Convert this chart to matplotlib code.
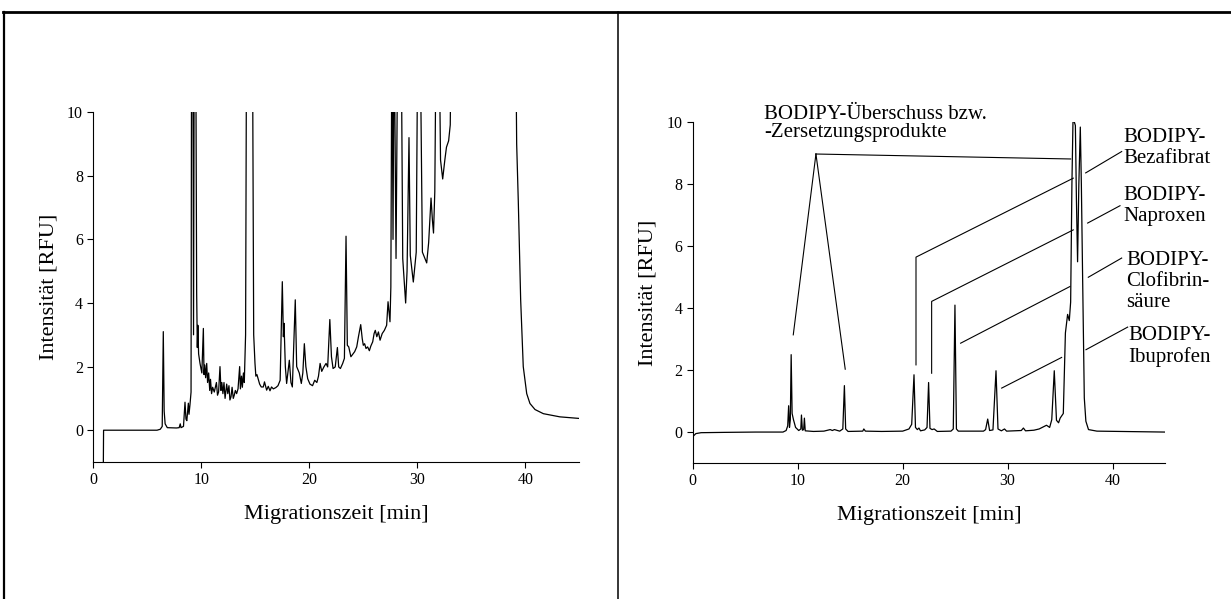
import matplotlib
matplotlib.use("Agg")
import matplotlib.pyplot as plt
from matplotlib.lines import Line2D

plt.rcParams['font.family'] = ['Liberation Serif', 'DejaVu Serif']

# left electropherogram (values > 10 run off the top of the plot)
left_t = [0.93, 0.95, 5.9, 6.2, 6.38, 6.48, 6.56, 6.65, 6.85, 7.7, 7.95, 8.05, 8.12, 8.35,
          8.49, 8.58, 8.66, 8.8, 8.86, 8.95, 9.05, 9.1, 9.2, 9.28, 9.36, 9.48, 9.57, 9.63,
          9.68, 9.75, 9.88, 10.05, 10.19, 10.25, 10.32, 10.4, 10.5, 10.58, 10.68, 10.78,
          10.85, 10.95, 11.05, 11.2, 11.4, 11.5, 11.6, 11.73, 11.82, 11.9, 12.0, 12.1, 12.2,
          12.35, 12.45, 12.56, 12.65, 12.75, 12.85, 12.96, 13.05, 13.15, 13.27, 13.4, 13.55,
          13.62, 13.72, 13.8, 13.9, 13.98, 14.1, 14.2, 14.72, 14.85, 14.97, 15.05, 15.15,
          15.4, 15.55, 15.74, 15.85, 16.05, 16.2, 16.36, 16.5, 16.67, 16.9, 17.1, 17.3, 17.5,
          17.6, 17.66, 17.78, 17.9, 18.15, 18.3, 18.43, 18.7, 18.83, 18.95, 19.07, 19.26,
          19.4, 19.54, 19.68, 19.85, 20.06, 20.3, 20.5, 20.7, 20.85, 21.0, 21.15, 21.35,
          21.55, 21.7, 21.9, 22.05, 22.2, 22.4, 22.6, 22.72, 22.88, 23.09, 23.25, 23.4,
          23.52, 23.65, 23.85, 24.07, 24.2, 24.39, 24.55, 24.76, 24.9, 25.0, 25.12, 25.25,
          25.4, 25.56, 25.7, 25.87, 26.0, 26.11, 26.25, 26.4, 26.55, 26.75, 26.95, 27.16,
          27.29, 27.47, 27.55, 27.65, 27.75, 27.85, 28.03, 28.2, 28.35, 28.5, 28.65, 28.92,
          29.05, 29.23, 29.35, 29.63, 29.9, 30.05, 30.25, 30.47, 30.7, 30.87, 31.05, 31.27,
          31.4, 31.5, 31.62, 31.75, 32.0, 32.15, 32.35, 32.55, 32.7, 32.9, 33.05, 33.15,
          39.1, 39.2, 39.35, 39.57, 39.81, 40.13, 40.43, 40.9, 41.67, 43.2, 45.0]
left_rfu = [-1.0, 0.0, 0.0, 0.03, 0.12, 3.1, 0.6, 0.2, 0.08, 0.07, 0.08, 0.2, 0.08, 0.12,
            0.88, 0.35, 0.3, 0.85, 0.5, 0.8, 1.2, 13, 15, 3.0, 15, 13, 4.3, 2.6,
            3.3, 2.4, 2.1, 1.8, 3.2, 1.75, 2.05, 1.65, 2.1, 1.5, 1.8, 1.25,
            1.6, 1.15, 1.35, 1.2, 1.5, 1.1, 1.2, 2.0, 1.25, 1.5, 1.15, 1.5, 1.0,
            1.45, 1.15, 1.4, 0.95, 1.05, 1.35, 1.0, 1.1, 1.25, 1.15, 1.3, 2.0,
            1.3, 1.7, 1.35, 1.8, 1.5, 3.0, 14, 14, 3.0, 2.1, 1.7, 1.75,
            1.45, 1.36, 1.36, 1.52, 1.26, 1.38, 1.24, 1.36, 1.3, 1.34, 1.4, 1.57, 4.67,
            2.94, 3.36, 2.0, 1.47, 2.2, 1.5, 1.36, 4.1, 2.0, 1.9, 1.8, 1.47,
            1.8, 2.72, 2.0, 1.62, 1.45, 1.4, 1.57, 1.5, 1.7, 2.1, 1.85, 1.99,
            2.1, 1.99, 3.48, 2.31, 1.94, 1.99, 2.6, 1.99, 1.94, 2.1, 2.26, 6.1,
            2.67, 2.62, 2.31, 2.41, 2.47, 2.62, 2.94, 3.32, 2.88, 2.67, 2.72, 2.57,
            2.62, 2.5, 2.65, 2.78, 3.04, 3.14, 2.94, 3.09, 2.83, 3.04, 3.14, 3.3,
            4.04, 3.41, 4.5, 13, 6.0, 13, 5.4, 13, 13, 13, 5.4, 4.0,
            5.0, 9.2, 5.5, 4.66, 5.6, 13, 13, 5.6, 5.4, 5.26, 5.9, 7.3,
            6.6, 6.2, 7.5, 13, 13, 8.5, 7.9, 8.5, 8.9, 9.1, 9.6, 13,
            13, 9.0, 7.2, 4.1, 2.0, 1.15, 0.84, 0.65, 0.52, 0.42, 0.37]

# right electropherogram
right_t = [0.0, 0.3, 0.8, 3.0, 6.0, 8.6, 8.9, 9.05, 9.14, 9.22, 9.3, 9.38, 9.47, 9.6, 9.8,
           10.1, 10.3, 10.36, 10.45, 10.57, 10.64, 10.72, 11.5, 12.5, 13.1, 13.3, 13.5,
           14.0, 14.3, 14.45, 14.57, 14.8, 16.2, 16.3, 16.45, 18.0, 20.0, 20.6, 20.86,
           21.08, 21.22, 21.4, 21.55, 21.7, 22.1, 22.32, 22.47, 22.6, 22.8, 23.0, 23.3,
           24.6, 24.82, 24.98, 25.12, 25.3, 27.7, 27.9, 28.1, 28.28, 28.6, 28.89, 29.08,
           29.4, 29.7, 29.9, 31.3, 31.5, 31.7, 32.5, 33.0, 33.7, 34.0, 34.2, 34.44, 34.65,
           34.85, 35.0, 35.3, 35.5, 35.71, 35.87, 36.0, 36.12, 36.22, 36.32, 36.45, 36.55,
           36.66, 36.78, 36.92, 37.02, 37.14, 37.3, 37.45, 37.7, 38.5, 45.0]
right_rfu = [-0.15, -0.05, -0.02, -0.01, 0.0, 0.0, 0.05, 0.2, 0.85, 0.15, 0.4, 2.5, 0.6, 0.4, 0.15,
             0.05, 0.1, 0.55, 0.06, 0.08, 0.45, 0.04, 0.02, 0.03, 0.08, 0.05, 0.08,
             0.03, 0.1, 1.5, 0.1, 0.02, 0.03, 0.1, 0.03, 0.02, 0.03, 0.1, 0.25,
             1.85, 0.15, 0.08, 0.13, 0.04, 0.07, 0.15, 1.6, 0.12, 0.08, 0.1, 0.02,
             0.03, 0.1, 4.1, 0.1, 0.03, 0.03, 0.08, 0.42, 0.05, 0.07, 1.98, 0.1,
             0.04, 0.1, 0.03, 0.05, 0.13, 0.04, 0.06, 0.1, 0.22, 0.15, 0.4, 1.98, 0.38,
             0.3, 0.45, 0.6, 3.2, 3.8, 3.6, 4.2, 8.0, 10.0, 10.05, 9.9, 7.5,
             5.5, 8.0, 9.85, 8.0, 5.0, 1.1, 0.35, 0.08, 0.03, 0.0]

yticks = [0, 2, 4, 6, 8, 10]
xticks = [0, 10, 20, 30, 40]
xlabel = "Migrationszeit [min]"
ylabel = "Intensität [RFU]"

excess_label = "BODIPY-Überschuss bzw.\n-Zersetzungsprodukte"
# apex of the excess leader lines and the points they point to
excess_apex = (11.74, 8.98)
excess_targets = [(9.58, 3.14), (14.53, 2.03), (36.0, 8.82)]

labels = ["BODIPY-\nBezafibrat", "BODIPY-\nNaproxen", "BODIPY-\nClofibrin-\nsäure", "BODIPY-\nIbuprofen"]
label_pos = [(40.98, 9.17), (40.98, 7.31), (41.3, 4.87), (41.46, 2.76)]
short_leaders = [((37.43, 8.37), (40.86, 9.06)), ((37.62, 6.75), (40.7, 7.31)),
                 ((37.68, 5.0), (40.86, 5.62)), ((37.46, 2.66), (41.43, 3.39))]
long_leaders = [[(21.27, 2.17), (21.27, 5.65), (36.25, 8.2)],
                [(22.76, 1.9), (22.76, 4.22), (36.25, 6.53)],
                [(25.52, 2.87), (35.93, 4.7)],
                [(29.43, 1.42), (35.14, 2.41)]]


def style_axes(ax):
    ax.set_xlim(0, 45)
    ax.set_ylim(-1, 10)
    ax.set_xticks(xticks)
    ax.set_yticks(yticks)
    ax.spines['top'].set_visible(False)
    ax.spines['right'].set_visible(False)
    for s in ('left', 'bottom'):
        ax.spines[s].set_linewidth(0.8)
    ax.tick_params(direction='out', length=4.5, width=0.8, labelsize=11.5, pad=3)
    ax.set_xlabel(xlabel, fontsize=16, labelpad=12)
    ax.set_ylabel(ylabel, fontsize=16, labelpad=6)


fig = plt.figure(figsize=(12.31, 5.99), dpi=100)

ax1 = fig.add_axes([0.0758, 0.2287, 0.3948, 0.584])
ax1.plot(left_t, left_rfu, color='black', lw=0.9)
style_axes(ax1)

ax2 = fig.add_axes([0.5627, 0.2270, 0.3838, 0.5686])
ax2.plot(right_t, right_rfu, color='black', lw=0.9)
style_axes(ax2)

ax2.text(6.8, 9.97, excess_label, fontsize=15, ha='left', va='center', linespacing=0.95)
for tx, ty in excess_targets:
    ax2.plot([excess_apex[0], tx], [excess_apex[1], ty], color='black', lw=0.8)
for (a, b) in short_leaders:
    ax2.plot([a[0], b[0]], [a[1], b[1]], color='black', lw=0.8, clip_on=False)
for pts in long_leaders:
    ax2.plot([p[0] for p in pts], [p[1] for p in pts], color='black', lw=0.8)
for lab, (lx, ly) in zip(labels, label_pos):
    ax2.text(lx, ly, lab, fontsize=15, ha='left', va='center', linespacing=1.15)

# table frame around the two panels
fig.add_artist(Line2D([0.0025, 1.0], [0.98, 0.98], color='black', lw=2.0))
fig.add_artist(Line2D([0.0035, 0.0035], [0.0, 0.98], color='black', lw=1.6))
fig.add_artist(Line2D([0.502, 0.502], [0.0, 0.98], color='black', lw=1.1))

fig.savefig("out.png", dpi=100)
